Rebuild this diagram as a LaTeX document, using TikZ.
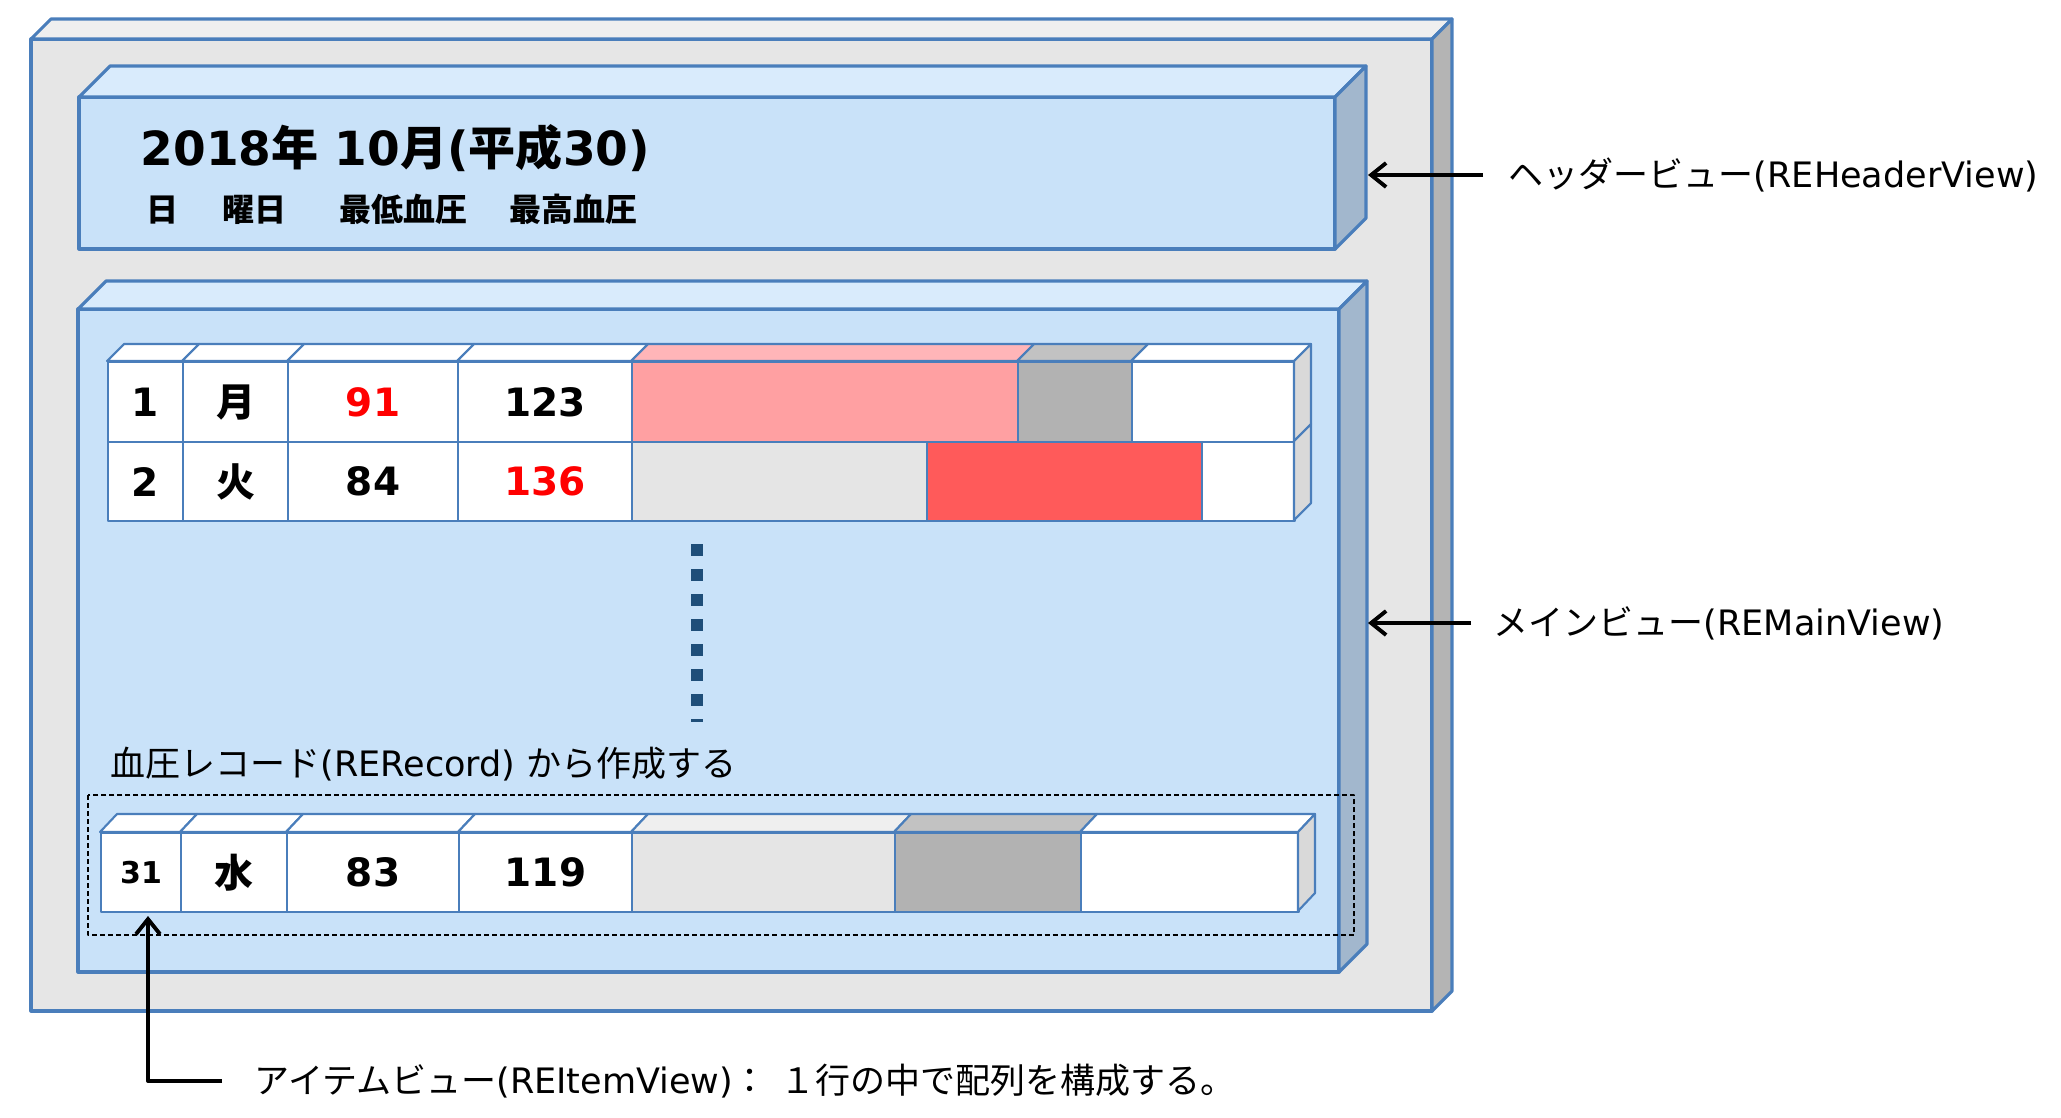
\documentclass[tikz,border=0pt]{standalone}
\usepackage{fontspec}
\setmainfont{DejaVu Sans}
\newfontfamily\jp{Noto Sans CJK JP}
\usetikzlibrary{arrows.meta}

\definecolor{edgeblue}{HTML}{4A7EBB}
\definecolor{outerfront}{HTML}{E6E6E6}
\definecolor{outertop}{HTML}{EFEFEF}
\definecolor{outerside}{HTML}{B4B4B4}
\definecolor{viewfront}{HTML}{C9E2F9}
\definecolor{viewtop}{HTML}{D9EBFC}
\definecolor{viewside}{HTML}{A2B7CD}
\definecolor{barpink}{HTML}{FFA0A2}
\definecolor{toppink}{HTML}{FFB5B8}
\definecolor{bargray}{HTML}{B2B2B2}
\definecolor{topgray}{HTML}{C2C2C2}
\definecolor{barlight}{HTML}{E5E5E5}
\definecolor{toplight}{HTML}{EFEFEF}
\definecolor{barred}{HTML}{FF5A5A}
\definecolor{rowside}{HTML}{D9D9D9}
\definecolor{numred}{HTML}{FF0000}
\definecolor{dotblue}{HTML}{1F4E79}

% front, top and right faces of a flat box: x1 y1 x2 y2 depth front top side
\newcommand{\viewslab}[8]{%
  \filldraw[face, fill=#6] (#1,#2) rectangle (#3,#4);
  \filldraw[face, fill=#7] (#1,#2) -- ({#1+#5},{#2-#5}) -- ({#3+#5},{#2-#5}) -- (#3,#2) -- cycle;
  \filldraw[face, fill=#8] (#3,#2) -- ({#3+#5},{#2-#5}) -- ({#3+#5},{#4-#5}) -- (#3,#4) -- cycle;
}

\begin{document}
\begin{tikzpicture}[x=0.01cm, y=-0.01cm, line join=round]

    \tikzset{face/.style={draw=edgeblue, line width=0.9pt}};
    \tikzset{cellface/.style={draw=edgeblue, line width=0.6pt}};
    \tikzset{cell/.style={%
      cellface,%
      rectangle,%
      inner sep=0pt,%
      anchor=north west,%
      font=\fontsize{0.39cm}{0.46cm}\selectfont\bfseries}%
    };
    \tikzset{label/.style={inner ysep=0pt, anchor=west, font=\fontsize{0.35cm}{0.42cm}\selectfont}};
    \tikzset{pointer/.style={-{Straight Barb[length=0.15cm,width=0.24cm]}, line width=1.1pt, black}};

    \useasboundingbox (0,0) rectangle (2061,1117);

    %%%%%%%%%%%%%%%
    %   frames    %
    %%%%%%%%%%%%%%%
    \viewslab{31}{39}{1432}{1011}{20}{outerfront}{outertop}{outerside}
    \viewslab{79}{97}{1335}{249}{31}{viewfront}{viewtop}{viewside}
    \viewslab{78}{309}{1339}{972}{28}{viewfront}{viewtop}{viewside}

    %%%%%%%%%%%%%%%
    %   header    %
    %%%%%%%%%%%%%%%
    \node [anchor=base west, inner sep=0pt, font=\fontsize{0.47cm}{0.56cm}\selectfont\bfseries]
      (title) at (140,165) {2018{\jp 年} 10{\jp 月}({\jp 平成}30)};
    \node [anchor=base west, inner sep=0pt, font=\fontsize{0.32cm}{0.38cm}\selectfont\jp\bfseries] (hday) at (146,221) {日};
    \node [anchor=base west, inner sep=0pt, font=\fontsize{0.32cm}{0.38cm}\selectfont\jp\bfseries] (hweek) at (222,221) {曜日};
    \node [anchor=base west, inner sep=0pt, font=\fontsize{0.32cm}{0.38cm}\selectfont\jp\bfseries] (hlow) at (339,221) {最低血圧};
    \node [anchor=base west, inner sep=0pt, font=\fontsize{0.32cm}{0.38cm}\selectfont\jp\bfseries] (hhigh) at (509,221) {最高血圧};

    %%%%%%%%%%%%%%%
    %    rows     %
    %%%%%%%%%%%%%%%
    \foreach \xa/\xb/\val/\tc/\fc/\topc [count=\i] in {%
        107/182/1/black/white/white,
        182/287/{\jp 月}/black/white/white,
        287/457/91/numred/white/white,
        457/631/123/black/white/white,
        631/1017/{}/black/barpink/toppink,
        1017/1131/{}/black/bargray/topgray,
        1131/1294/{}/black/white/white} {
      \node [cell, fill=\fc, text=\tc, minimum width={(\xb-\xa)*0.01cm}, minimum height=0.8cm] (ra\i) at (\xa,361) {\val};
      \filldraw [cellface, fill=\topc] (\xa,361) -- ({\xa+17},344) -- ({\xb+17},344) -- (\xb,361) -- cycle;
    }
    \filldraw [cellface, fill=rowside] (1294,361) -- (1311,344) -- (1311,424) -- (1294,441) -- cycle;

    \foreach \xa/\xb/\val/\tc/\fc [count=\i] in {%
        107/182/2/black/white,
        182/287/{\jp 火}/black/white,
        287/457/84/black/white,
        457/631/136/numred/white,
        631/926/{}/black/barlight,
        926/1201/{}/black/barred,
        1201/1294/{}/black/white} {
      \node [cell, fill=\fc, text=\tc, minimum width={(\xb-\xa)*0.01cm}, minimum height=0.79cm] (rb\i) at (\xa,441) {\val};
    }
    \filldraw [cellface, fill=rowside] (1294,441) -- (1311,424) -- (1311,503) -- (1294,520) -- cycle;

    % more rows
    \coordinate (dottop) at (697,544);
    \coordinate (dotend) at (697,722);
    \draw [dotblue, line width=0.12cm, dash pattern=on 0.12cm off 0.13cm] (dottop) -- (dotend);

    \node [label, inner xsep=0pt] (reclbl) at (110,764)
      {{\jp 血圧レコード}(RERecord) {\jp から作成する}};

    \draw [black, line width=0.6pt, dash pattern=on 0.05cm off 0.03cm] (88,795) rectangle (1354,935);

    \foreach \xa/\xb/\val/\fc/\topc [count=\i] in {%
        100/180/{\fontsize{0.3cm}{0.36cm}\selectfont 31}/white/white,
        180/286/{\jp 水}/white/white,
        286/458/83/white/white,
        458/631/119/white/white,
        631/894/{}/barlight/toplight,
        894/1080/{}/bargray/topgray,
        1080/1298/{}/white/white} {
      \node [cell, fill=\fc, minimum width={(\xb-\xa)*0.01cm}, minimum height=0.79cm] (rc\i) at (\xa,832) {\val};
      \filldraw [cellface, fill=\topc] (\xa,832) -- ({\xa+17},814) -- ({\xb+17},814) -- (\xb,832) -- cycle;
    }
    \filldraw [cellface, fill=rowside] (1298,832) -- (1315,814) -- (1315,893) -- (1298,911) -- cycle;

    %%%%%%%%%%%%%%%
    %   labels    %
    %%%%%%%%%%%%%%%
    \coordinate (hdrtip) at (1368,175);
    \coordinate (maintip) at (1368,623);
    \coordinate (itemtip) at (148,916);

    \node [label, inner xsep=0.25cm] (hdrlbl) at (1483,175) {{\jp ヘッダービュー}(REHeaderView)};
    \node [label, inner xsep=0.22cm] (mainlbl) at (1471,623) {{\jp メインビュー}(REMainView)};
    \node [label, inner xsep=0.32cm] (itemlbl) at (222,1081)
      {{\jp アイテムビュー}(REItemView){\jp ：\hspace{0.35em}１行の中で配列を構成する。}};

    \draw [pointer] (hdrlbl.west) -- (hdrtip);
    \draw [pointer] (mainlbl.west) -- (maintip);
    \draw [pointer] (itemlbl.west) -| (itemtip);

  \end{tikzpicture}
\end{document}
